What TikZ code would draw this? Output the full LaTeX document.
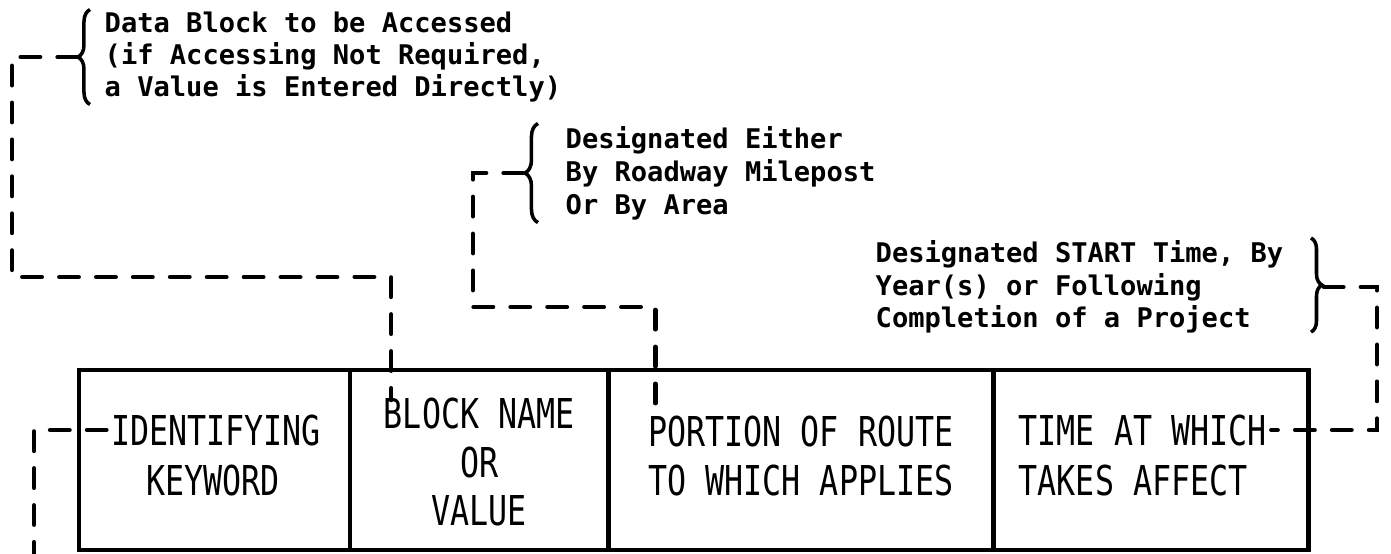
\documentclass[tikz,border=0pt]{standalone}
\usepackage{fontspec}
\usetikzlibrary{positioning,calc,decorations.pathreplacing}
\newfontfamily\notefont{DejaVu Sans Mono Bold}
\newfontfamily\cellfont[FakeStretch=0.77]{DejaVu Sans Mono}
\begin{document}
\begin{tikzpicture}[x=0.01cm,y=-0.01cm,
  cell/.style={draw,line width=1.3pt,minimum height=1.8cm,inner sep=0pt,outer sep=0pt,anchor=north west},
  celltext/.style={font=\cellfont\fontsize{11.7pt}{13.9pt}\selectfont,align=center,inner sep=0pt},
  note/.style={font=\notefont\fontsize{7.7pt}{#1}\selectfont,align=left,inner sep=0pt},
  leader/.style={line width=1.3pt,line cap=round,dash pattern=on 5.5pt off 5pt},
  curly/.style={line width=1pt,decorate,decoration={brace,amplitude=#1}}]
\useasboundingbox (0,0) rectangle (1391,553);
% record layout
\node[cell,minimum width=2.71cm] (keyword) at (79,370) {};
\node[cell,minimum width=2.58cm] (block) at (keyword.north east) {};
\node[cell,minimum width=3.85cm] (portion) at (block.north east) {};
\node[cell,minimum width=3.15cm] (time) at (portion.north east) {};
\node[celltext] (kw1) at (216,430) {IDENTIFYING};
\node[celltext] (kw2) at (213,480) {KEYWORD};
\node[celltext] (bn) at ([yshift=-0.02cm]block.center) {BLOCK NAME\\OR\\VALUE};
\node[celltext] (pr) at ([yshift=0.04cm]portion.center) {PORTION OF ROUTE\\TO WHICH APPLIES};
\node[celltext,anchor=west] (tm1) at (1018,430) {TIME AT WHICH};
\node[celltext,anchor=west] (tm2) at (1018,480) {TAKES AFFECT};
% notes
\node[note=9pt,anchor=west] (note1) at (104,57) {Data Block to be Accessed\\(if Accessing Not Required,\\a Value is Entered Directly)};
\node[note=9.4pt,anchor=west] (note2) at (565,173) {Designated Either\\By Roadway Milepost\\Or By Area};
\node[note=9.25pt,anchor=west] (note3) at (875,287) {Designated START Time, By\\Year(s) or Following\\Completion of a Project};
\draw[curly=0.12cm] ([xshift=-0.14cm,yshift=-0.02cm]note1.south west) -- ([xshift=-0.14cm,yshift=0.02cm]note1.north west);
\draw[curly=0.13cm] ([xshift=-0.27cm,yshift=-0.02cm]note2.south west) -- ([xshift=-0.27cm,yshift=0.02cm]note2.north west);
\draw[curly=0.11cm] ([xshift=0.27cm,yshift=0.02cm]note3.north east) -- ([xshift=0.27cm,yshift=0.02cm]note3.south east);
\coordinate (tip1) at ([xshift=-0.27cm]note1.west);
\coordinate (tip2) at ([xshift=-0.42cm]note2.west);
\coordinate (tip3) at ([xshift=0.40cm]note3.east);
\coordinate (in1) at ([xshift=0.41cm,yshift=-0.3cm]block.north west);
\coordinate (in2) at ([xshift=0.47cm,yshift=-0.36cm]portion.north west);
\coordinate (foot) at (34,553);
% leaders
\draw[leader] (tip1) -| (12,277) -| (in1);
\draw[leader] (tip2) -| (473,307) -| (in2);
\draw[leader] (tip3) -| (1377,430) -- ([xshift=0.04cm]tm1.east);
\draw[leader] ([xshift=-0.04cm]kw1.west) -| (foot);
\end{tikzpicture}
\end{document}
